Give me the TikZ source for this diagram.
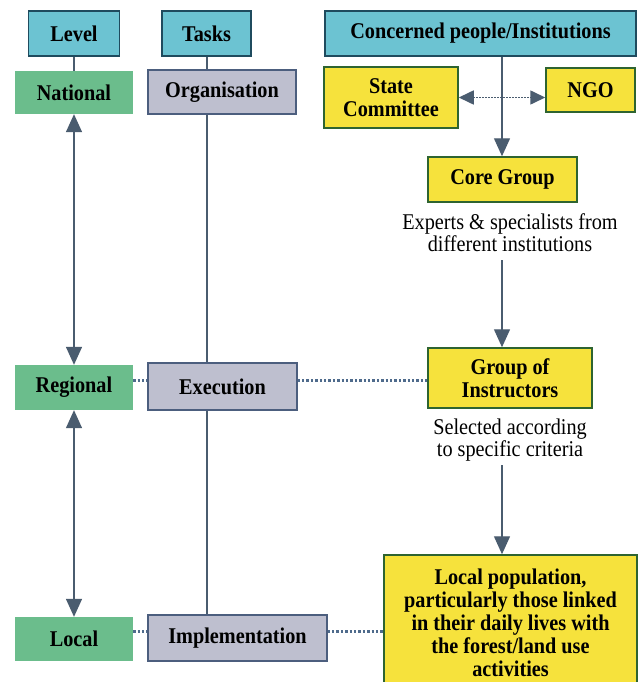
\documentclass[tikz,border=0pt]{standalone}
\usepackage{fontspec}
\setmainfont{Liberation Serif}
\newfontfamily\tallserif[FakeStretch=0.9]{Liberation Serif}
\usetikzlibrary{arrows.meta}
\definecolor{hdrfill}{HTML}{6CC3D2}
\definecolor{hdrdraw}{HTML}{1F4B5E}
\definecolor{grnfill}{HTML}{6BBD8C}
\definecolor{gryfill}{HTML}{BEBFCF}
\definecolor{grydraw}{HTML}{4C5E7E}
\definecolor{ylwfill}{HTML}{F6E23C}
\definecolor{ylwdraw}{HTML}{2E6430}
\definecolor{conn}{HTML}{4A5C6F}
\definecolor{dotc}{HTML}{4F6B8C}
\begin{document}
\begin{tikzpicture}[x=1pt,y=-1pt,
  box/.style={inner sep=0pt,align=center,font=\tallserif\fontsize{22.5}{23}\selectfont\bfseries},
  hdr/.style={box,fill=hdrfill,draw=hdrdraw,line width=1.8pt},
  grn/.style={box,fill=grnfill},
  gry/.style={box,fill=gryfill,draw=grydraw,line width=1.2pt},
  ylw/.style={box,fill=ylwfill,draw=ylwdraw,line width=1.5pt},
  note/.style={align=center,inner sep=0pt,font=\tallserif\fontsize{22.5}{22}\selectfont},
  plain/.style={draw=conn,line width=1.4pt},
  arr/.style={draw=conn,line width=1.4pt,-{Triangle[width=16pt,length=18pt]}},
  darr/.style={draw=conn,line width=1.4pt,{Triangle[width=16pt,length=18pt]}-{Triangle[width=16pt,length=18pt]}},
  hdarr/.style={draw=conn,line width=1.6pt,dash pattern=on 1.6pt off 1.4pt,{Triangle[width=14pt,length=15pt]}-{Triangle[width=14pt,length=15pt]}},
  dots/.style={draw=dotc,line width=3pt,dash pattern=on 2.4pt off 2pt}]
\clip (0,0) rectangle (643,682);
\fill[white] (0,0) rectangle (643,682);
% header row
\node[hdr,minimum width=91pt,minimum height=45pt] (level) at (74,33.5) {Level};
\node[hdr,minimum width=89pt,minimum height=45pt] (tasks) at (206.5,33.5) {Tasks};
\node[hdr,minimum width=311pt,minimum height=45pt] (conc) at (480.5,33.5) {Concerned people/Institutions};
% left columns
\node[grn,minimum width=118pt,minimum height=43pt] (nat) at (74,92.5) {National};
\node[gry,minimum width=148pt,minimum height=44pt] (org) at (222,92) {Organisation};
\node[grn,minimum width=118pt,minimum height=45pt] (reg) at (74,387.5) {Regional};
\node[gry,minimum width=149pt,minimum height=47pt] (exe) at (222.5,386.5) {Execution};
\node[grn,minimum width=118pt,minimum height=44pt] (loc) at (74,639) {Local};
\node[gry,minimum width=179pt,minimum height=46pt] (imp) at (237.5,638) {Implementation};
% right column
\node[ylw,minimum width=134pt,minimum height=61pt] (state) at (391,97.5) {State\\Committee};
\node[ylw,minimum width=89pt,minimum height=44pt] (ngo) at (590.5,90) {NGO};
\node[ylw,minimum width=149pt,minimum height=45pt] (core) at (502.5,179.5) {Core Group};
\node[note] (expt) at (510,232.5) {Experts \& specialists from\\different institutions};
\node[ylw,minimum width=164pt,minimum height=60pt] (grp) at (510,378) {Group of\\Instructors};
\node[note] (sel) at (510,440) {Selected according\\to specific criteria};
\node[ylw,minimum width=253pt,minimum height=135pt] (pop) at (510.5,622.5) {Local population,\\particularly those linked\\in their daily lives with\\the forest/land use\\activities};
% coordinates
\coordinate (tx) at (207,0);
\coordinate (cx) at (502,0);
\coordinate (a1) at (502,260);
\coordinate (a2) at (502,465);
% connectors, left
\draw[plain] (level.south) -- (nat.north);
\draw[plain] (tx |- tasks.south) -- (tx |- org.north);
\draw[plain] (tx |- org.south) -- (tx |- exe.north);
\draw[plain] (tx |- exe.south) -- (tx |- imp.north);
\draw[darr] (nat.south) -- (reg.north);
\draw[darr] (reg.south) -- (loc.north);
% connectors, right
\draw[hdarr] (state.east) -- (state.east -| ngo.west);
\draw[arr] (cx |- conc.south) -- (cx |- core.north);
\draw[arr] (a1) -- (a1 |- grp.north);
\draw[arr] (a2) -- (a2 |- pop.north);
% dotted links
\coordinate (d1) at (0,380);
\coordinate (d2) at (0,631);
\draw[dots] (reg.east |- d1) -- (exe.west |- d1);
\draw[dots] (exe.east |- d1) -- (grp.west |- d1);
\draw[dots] (loc.east |- d2) -- (imp.west |- d2);
\draw[dots] (imp.east |- d2) -- (pop.west |- d2);
\end{tikzpicture}
\end{document}
